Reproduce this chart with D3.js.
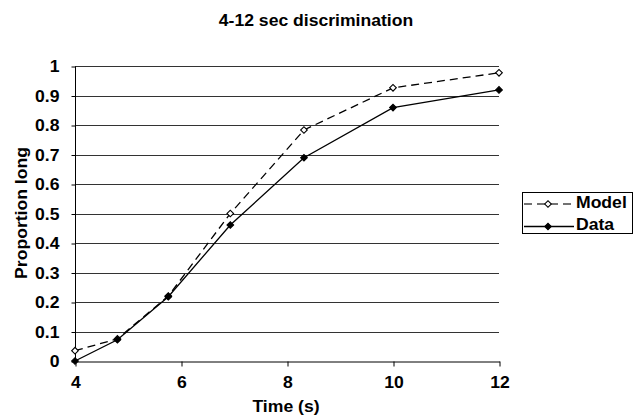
<!DOCTYPE html>
<html>
<head>
<meta charset="utf-8">
<script src="https://cdn.jsdelivr.net/npm/d3@7"></script>
<style>
  body { margin: 0; background: #fff; }
  text { font-family: "Liberation Sans", Arial, sans-serif; font-weight: bold; fill: #000; }
</style>
</head>
<body>
<svg id="chart" width="638" height="419"></svg>
<script>
var times = [4, 4.8, 5.76, 6.93, 8.32, 10, 12];
var modelValues = [0.035, 0.075, 0.22, 0.50, 0.783, 0.926, 0.977];
var dataValues = [0, 0.072, 0.218, 0.461, 0.689, 0.859, 0.919];
var xTicks = [4, 6, 8, 10, 12];
var yTicks = [0, 0.1, 0.2, 0.3, 0.4, 0.5, 0.6, 0.7, 0.8, 0.9, 1];

var svg = d3.select('#chart');
var plotLeft = 75, plotRight = 499, plotTop = 66, plotBottom = 361;
var fontSize = '16px';
var widen = 1.1;

var x = d3.scaleLinear().domain([4, 12]).range([plotLeft, plotRight]);
var y = d3.scaleLinear().domain([0, 1]).range([plotBottom, plotTop]);

// marker: a small square turned 45 degrees
var marker = d3.symbol().type(d3.symbolSquare).size(22);

// the reference lettering is a little wider than Arial, so stretch it round its anchor
function stretch (sel) {
    sel.each(function () {
        var t = d3.select(this);
        var ax = +t.attr('x') || 0;
        var old = t.attr('transform') || '';
        t.attr('transform', old + ' translate(' + ax + ',0) scale(' + widen + ',1) translate(' + (-ax) + ',0)');
    });
}

// title
svg.append('text')
    .attr('x', 316).attr('y', 26)
    .style('font-size', fontSize)
    .style('text-anchor', 'middle')
    .text('4-12 sec discrimination')
    .call(stretch);

// grid lines
svg.append('g').selectAll('line')
    .data(yTicks.filter(function (d) { return d > 0; }))
    .enter().append('line')
    .attr('x1', plotLeft).attr('x2', plotRight)
    .attr('y1', function (d) { return Math.round(y(d)) + 0.5; })
    .attr('y2', function (d) { return Math.round(y(d)) + 0.5; })
    .style('stroke', '#333')
    .style('stroke-width', 1);

// y axis
var yAxis = svg.append('g')
    .attr('transform', 'translate(' + (plotLeft + 0.5) + ',0.5)')
    .call(d3.axisLeft(y).tickValues(yTicks).tickSize(4).tickPadding(12)
        .tickFormat(function (d) { return d === 0 || d === 1 ? d3.format('d')(d) : d3.format('.1f')(d); }));
yAxis.select('.domain').attr('d', 'M0,' + y(1) + 'V' + y(0)).style('stroke', '#000');
yAxis.selectAll('.tick line').style('stroke', '#000');
yAxis.selectAll('text')
    .style('font-size', fontSize)
    .style('font-family', '"Liberation Sans", Arial, sans-serif')
    .attr('dy', '0.34em')
    .call(stretch);

// x axis
var xAxis = svg.append('g')
    .attr('transform', 'translate(0.5,' + (plotBottom + 0.5) + ')')
    .call(d3.axisBottom(x).tickValues(xTicks).tickSize(5).tickPadding(10).tickSizeOuter(0));
xAxis.select('.domain').style('stroke', '#000');
xAxis.selectAll('.tick line').style('stroke', '#000');
xAxis.selectAll('text')
    .style('font-size', fontSize)
    .style('font-family', '"Liberation Sans", Arial, sans-serif')
    .call(stretch);

// axis labels
svg.append('text')
    .attr('x', 286).attr('y', 412)
    .style('font-size', fontSize)
    .style('text-anchor', 'middle')
    .text('Time (s)')
    .call(stretch);

svg.append('text')
    .attr('transform', 'translate(27,213) rotate(-90) scale(' + widen + ',1)')
    .style('font-size', fontSize)
    .style('text-anchor', 'middle')
    .text('Proportion long');

var line = d3.line()
    .x(function (d) { return x(d.t); })
    .y(function (d) { return y(d.v); });

function drawSeries (values, dashed, filled) {
    var pts = times.map(function (t, i) { return { t: t, v: values[i] }; });
    svg.append('path')
        .datum(pts)
        .attr('d', line)
        .style('fill', 'none')
        .style('stroke', '#000')
        .style('stroke-width', 1.3)
        .style('stroke-dasharray', dashed ? '8,5' : null);
    svg.append('g').selectAll('path')
        .data(pts)
        .enter().append('path')
        .attr('d', marker)
        .attr('transform', function (d) { return 'translate(' + x(d.t) + ',' + y(d.v) + ') rotate(45)'; })
        .style('fill', filled ? '#000' : '#fff')
        .style('stroke', '#000')
        .style('stroke-width', 1.1);
}

drawSeries(modelValues, true, false);
drawSeries(dataValues, false, true);

// legend
var legend = svg.append('g').attr('transform', 'translate(522,192)');
legend.append('rect')
    .attr('x', 0.5).attr('y', 0.5)
    .attr('width', 110).attr('height', 41)
    .style('fill', '#fff')
    .style('stroke', '#000')
    .style('stroke-width', 1);

var legendItems = [
    { name: 'Model', dashed: true, filled: false },
    { name: 'Data', dashed: false, filled: true }
];
legendItems.forEach(function (item, i) {
    var cy = 12 + i * 22.5;
    legend.append('line')
        .attr('x1', 2).attr('x2', 52)
        .attr('y1', cy).attr('y2', cy)
        .style('stroke', item.dashed ? '#444' : '#000')
        .style('stroke-width', 1.3)
        .style('stroke-dasharray', item.dashed ? '8,5' : null);
    legend.append('path')
        .attr('d', marker)
        .attr('transform', 'translate(26,' + cy + ') rotate(45)')
        .style('fill', item.filled ? '#000' : '#fff')
        .style('stroke', '#000');
    legend.append('text')
        .attr('x', 54).attr('y', cy + 4)
        .style('font-size', fontSize)
        .text(item.name)
        .call(stretch);
});
</script>
</body>
</html>
